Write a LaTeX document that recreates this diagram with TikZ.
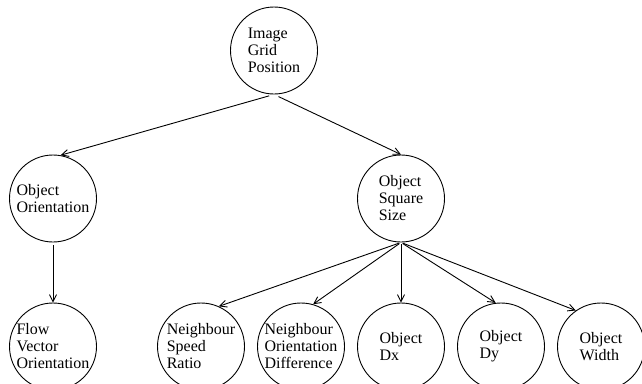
\documentclass[tikz,border=0pt]{standalone}
\usepackage{fontspec}
\setmainfont{Liberation Serif}
\usetikzlibrary{arrows.meta}

\begin{document}
\begin{tikzpicture}[x=1pt,y=1pt,
  feature/.style={draw,circle,line width=0.9pt,minimum size=87pt,
    inner sep=-14pt,align=left,font=\fontsize{16}{17}\selectfont},
  link/.style={line width=0.9pt,-{Straight Barb[length=7pt,width=7pt]}}]
  \useasboundingbox (0,0) rectangle (642,-383);

  % root
  \node[feature] (grid) at (274,-50.5) {Image\\Grid\\Position};

  % second level
  \node[feature] (orient) at (53,-198.5) {Object\\Orientation};
  \node[feature] (square) at (401,-198.5) {Object\\Square\\Size};

  % leaves
  \node[feature] (flow) at (53,-346.5) {Flow\\Vector\\Orientation};
  \node[feature] (speed) at (201,-346.5) {Neighbour\\Speed\\Ratio};
  \node[feature] (diff) at (301,-346.5) {Neighbour\\Orientation\\Difference};
  \node[feature] (dx) at (401,-346.5) {Object\\Dx};
  \node[feature] (dy) at (501,-346.5) {Object\\Dy};
  \node[feature] (width) at (601,-346.5) {Object\\Width};

  % links
  \draw[link,shorten <=5pt] (grid.south) -- (orient.80);
  \draw[link,shorten <=5pt] (grid.south) -- (square.north);
  \draw[link,shorten <=3pt] (orient.south) -- (flow.north);
  \draw[link,shorten <=2pt] (square.south) -- (speed.66);
  \draw[link,shorten <=2pt] (square.south) -- (diff.74);
  \draw[link,shorten <=2pt] (square.south) -- (dx.north);
  \draw[link,shorten <=2pt] (square.south) -- (dy.97);
  \draw[link,shorten <=2pt] (square.south) -- (width.125);
\end{tikzpicture}
\end{document}
